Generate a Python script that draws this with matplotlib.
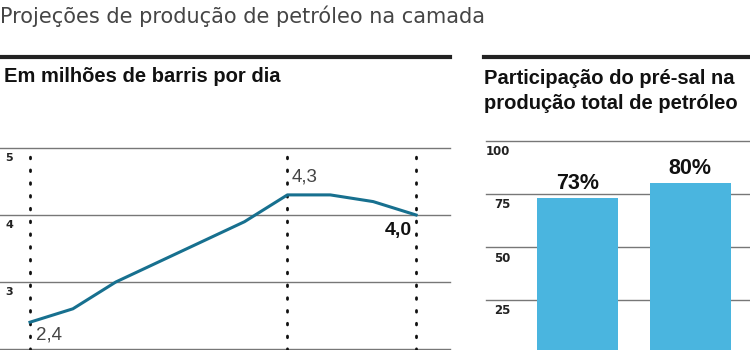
import matplotlib
matplotlib.use("Agg")
import matplotlib.pyplot as plt
from matplotlib.lines import Line2D

# ---- data ----
years_idx = [0, 1, 2, 3, 4, 5, 6, 7, 8, 9]
production = [2.4, 2.6, 3.0, 3.3, 3.6, 3.9, 4.3, 4.3, 4.2, 4.0]
left_ticks = [3, 4, 5]
highlight_idx = [0, 6, 9]
highlight_labels = ["2,4", "4,3", "4,0"]

bar_cats = [0, 1]
bar_values = [73, 80]
bar_labels = ["73%", "80%"]
right_ticks = [25, 50, 75, 100]

title = "Projeções de produção de petróleo na camada"
left_head = "Em milhões de barris por dia"
right_head = "Participação do pré-sal na\nprodução total de petróleo"

NARROW = ["Liberation Sans", "DejaVu Sans"]
W, H = 750, 350
fig = plt.figure(figsize=(7.5, 3.5), dpi=100)

def fx(px):
    return px / W

def fy(py):
    return 1 - py / H

# title & headings
fig.text(fx(0), fy(16), title, family=["DejaVu Sans"], fontsize=15, color="#454545",
         va="center", ha="left")
fig.add_artist(Line2D([fx(0), fx(450)], [fy(57), fy(57)], color="#222222", lw=3))
fig.add_artist(Line2D([fx(484), fx(750)], [fy(57), fy(57)], color="#222222", lw=3))
fig.text(fx(4), fy(77), left_head, family=NARROW, fontsize=14.5, weight="bold", color="#111111",
         va="center")
fig.text(fx(484), fy(91), right_head, family=NARROW, fontsize=14.5, weight="bold", color="#111111",
         va="center", linespacing=1.45)

# ---- left line chart ----
axL = fig.add_axes([0, 0, fx(450), (H - 148) / H])
px_per_unit_y = 67.0
px_per_unit_x = 42.9
axL.set_ylim(5 - 202 / px_per_unit_y, 5)
axL.set_xlim(-30 / px_per_unit_x, (450 - 30) / px_per_unit_x)
axL.axis("off")
for t in [2] + left_ticks:
    axL.axhline(t, color="#777777", lw=1.0, zorder=1, clip_on=False)
for t in left_ticks:
    axL.annotate(str(t), (0, t), xycoords=("axes fraction", "data"), xytext=(5, -10),
                 textcoords="offset pixels", fontsize=8, weight="bold", color="#222222",
                 va="center", ha="left")
for i in highlight_idx:
    axL.plot([years_idx[i], years_idx[i]], [axL.get_ylim()[0], 5], color="#111111",
             lw=2, ls=(0, (0.6, 4.0)), dash_capstyle="round", zorder=2, clip_on=False)
axL.plot(years_idx, production, color="#17708f", lw=2.2, zorder=3, solid_joinstyle="round")

i0, i1, i2 = highlight_idx
axL.annotate(highlight_labels[0], (years_idx[i0], production[i0]), xytext=(6, -13),
             textcoords="offset pixels", fontsize=13.5, color="#444444", ha="left", va="center",
             family=NARROW)
axL.annotate(highlight_labels[1], (years_idx[i1], production[i1]), xytext=(4, 18),
             textcoords="offset pixels", fontsize=13.5, color="#444444", ha="left", va="center",
             family=NARROW)
axL.annotate(highlight_labels[2], (years_idx[i2], production[i2]), xytext=(-4, -15),
             textcoords="offset pixels", fontsize=14, weight="bold", color="#111111", ha="right",
             va="center", family=NARROW)

# ---- right bar chart ----
axR = fig.add_axes([fx(485.5), 0, fx(264.5), (H - 141) / H])
px_per_unit_bar = 53 / 25
axR.set_ylim((353 - 350) / px_per_unit_bar, 100)
axR.set_xlim(-92 / 112.5, (264.5 - 92) / 112.5)
axR.axis("off")
for t in right_ticks:
    axR.annotate(str(t), (0, t), xycoords=("axes fraction", "data"), xytext=(25, -11),
                 textcoords="offset pixels", fontsize=8.5, weight="bold", color="#222222",
                 va="center", ha="right")
    axR.axhline(t, color="#777777", lw=1.0, zorder=1, clip_on=False)
axR.bar(bar_cats, bar_values, width=0.72, color="#4ab5df", zorder=2)
for c, v, lab in zip(bar_cats, bar_values, bar_labels):
    axR.annotate(lab, (c, v), xytext=(0, 4), textcoords="offset pixels", fontsize=15.5,
                 weight="bold", color="#111111", ha="center", va="bottom", family=NARROW)

fig.savefig("out.png", dpi=100)
